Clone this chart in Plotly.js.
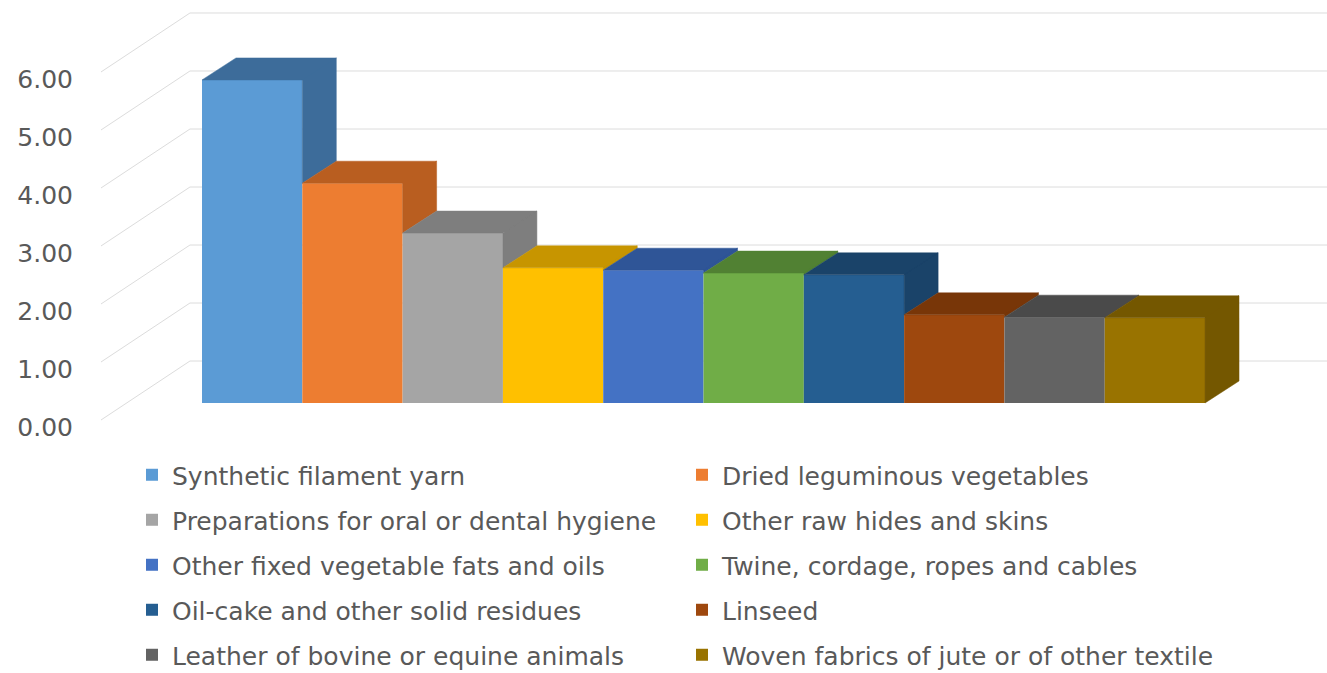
<!DOCTYPE html>
<html><head><meta charset="utf-8">
<script src="https://cdn.plot.ly/plotly-3.0.1.min.js"></script>
<style>html,body{margin:0;padding:0;background:#fff;} #chart{width:1327px;height:673px;}</style>
</head><body><div id="chart"></div>
<script>
// ---- data ----
const categories = [
  "Synthetic filament yarn",
  "Dried leguminous vegetables",
  "Preparations for oral or dental hygiene",
  "Other raw hides and skins",
  "Other fixed vegetable fats and oils",
  "Twine, cordage, ropes and cables",
  "Oil-cake and other solid residues",
  "Linseed",
  "Leather of bovine or equine animals",
  "Woven fabrics of jute or of other textile"
];
const values = [5.57, 3.79, 2.93, 2.33, 2.29, 2.24, 2.21, 1.52, 1.48, 1.47];
const yTicks = [0, 1, 2, 3, 4, 5, 6];

// ---- style ----
const frontColors = ["#5B9BD5","#ED7D31","#A5A5A5","#FFC000","#4472C4","#70AD47","#255E91","#9E480E","#636363","#997300"];
const shadeColors = ["#3D6C9A","#B95E20","#7E7E7E","#C79500","#2F5597","#518133","#1A4369","#783608","#4A4A4A","#745700"];
const FONT = "DejaVu Sans";
const TEXT_COLOR = "#595959";
const GRID_COLOR = "#DCDCDC";
const X_RANGE = [-1.7164, 10.716];
const Y_RANGE = [-0.638, 6.948];
const DEPTH_X = 0.339, DEPTH_Y = 0.379;          // bar depth in axis units
const WALL_BACK_X = -0.620, WALL_BACK_DY = 0.724; // back wall offset
const WALL_FRONT_X = -1.507, WALL_FRONT_DY = -0.293; // front edge offset
const LABEL_DY = -0.12;                            // tick labels sit a little below the line ends

const traces = [];
const n = values.length;
// front faces (bars, one per category for the legend)
for (let i = 0; i < n; i++) {
  traces.push({
    type: 'bar', x: [i], y: [values[i]], width: 1, name: categories[i],
    marker: {color: frontColors[i], line: {width: 0}},
    legend: (i % 2 === 0) ? 'legend' : 'legend2',
    legendgroup: 'g' + i, hoverinfo: 'name+y'
  });
}
// top and side faces
for (let i = 0; i < n; i++) {
  const v = values[i];
  const lower = (i < n - 1) ? Math.min(v, values[i + 1]) : 0;
  const xl = i - 0.5, xr = i + 0.5;
  const xs = [xl, xl + DEPTH_X, xr + DEPTH_X, xr, xl, null,
              xr, xr, xr + DEPTH_X, xr + DEPTH_X, xr];
  const ys = [v, v + DEPTH_Y, v + DEPTH_Y, v, v, null,
              lower, v, v + DEPTH_Y, lower + DEPTH_Y, lower];
  traces.push({
    type: 'scatter', mode: 'lines', x: xs, y: ys, fill: 'toself',
    fillcolor: shadeColors[i], line: {color: shadeColors[i], width: 0.5},
    showlegend: false, hoverinfo: 'skip', legendgroup: 'g' + i
  });
}
// wall gridlines as shapes below traces
const shapes = [];
yTicks.forEach(t => {
  shapes.push({type: 'line', layer: 'below', xref: 'x', yref: 'y',
    x0: WALL_FRONT_X, y0: t + WALL_FRONT_DY, x1: WALL_BACK_X, y1: t + WALL_BACK_DY,
    line: {color: GRID_COLOR, width: 1}});
  shapes.push({type: 'line', layer: 'below', xref: 'x', yref: 'y',
    x0: WALL_BACK_X, y0: t + WALL_BACK_DY, x1: X_RANGE[1], y1: t + WALL_BACK_DY,
    line: {color: GRID_COLOR, width: 1}});
});

const legendBase = {
  orientation: 'v', xanchor: 'left', yanchor: 'top', y: -0.0273,
  font: {family: FONT, size: 25, color: TEXT_COLOR},
  bgcolor: 'rgba(0,0,0,0)', tracegroupgap: 9.5, itemclick: false, itemdoubleclick: false
};

const labelShift = WALL_FRONT_DY + LABEL_DY;
const layout = {
  width: 1327, height: 673,
  margin: {l: 80, r: 0, t: 0, b: 233, autoexpand: false},
  paper_bgcolor: '#FFFFFF', plot_bgcolor: '#FFFFFF',
  barmode: 'overlay', showlegend: true,
  font: {family: FONT, size: 25, color: TEXT_COLOR},
  xaxis: {range: X_RANGE, visible: false, fixedrange: true},
  yaxis: {range: Y_RANGE, visible: false, fixedrange: true},
  yaxis2: {
    overlaying: 'y', side: 'left', anchor: 'x',
    range: [Y_RANGE[0] - labelShift, Y_RANGE[1] - labelShift],
    tickvals: yTicks, ticktext: yTicks.map(t => t.toFixed(2)),
    showgrid: false, zeroline: false, showline: false, ticks: '',
    ticklabelstandoff: 6,
    tickfont: {family: FONT, size: 25, color: TEXT_COLOR}, fixedrange: true
  },
  legend: Object.assign({}, legendBase, {x: (132 - 80) / 1247}),
  legend2: Object.assign({}, legendBase, {x: (682 - 80) / 1247}),
  shapes: shapes
};
// dummy trace so yaxis2 is drawn
traces.push({type: 'scatter', x: [], y: [], yaxis: 'y2', showlegend: false, hoverinfo: 'skip'});

Plotly.newPlot('chart', traces, layout, {displayModeBar: false, staticPlot: true});
</script></body></html>
